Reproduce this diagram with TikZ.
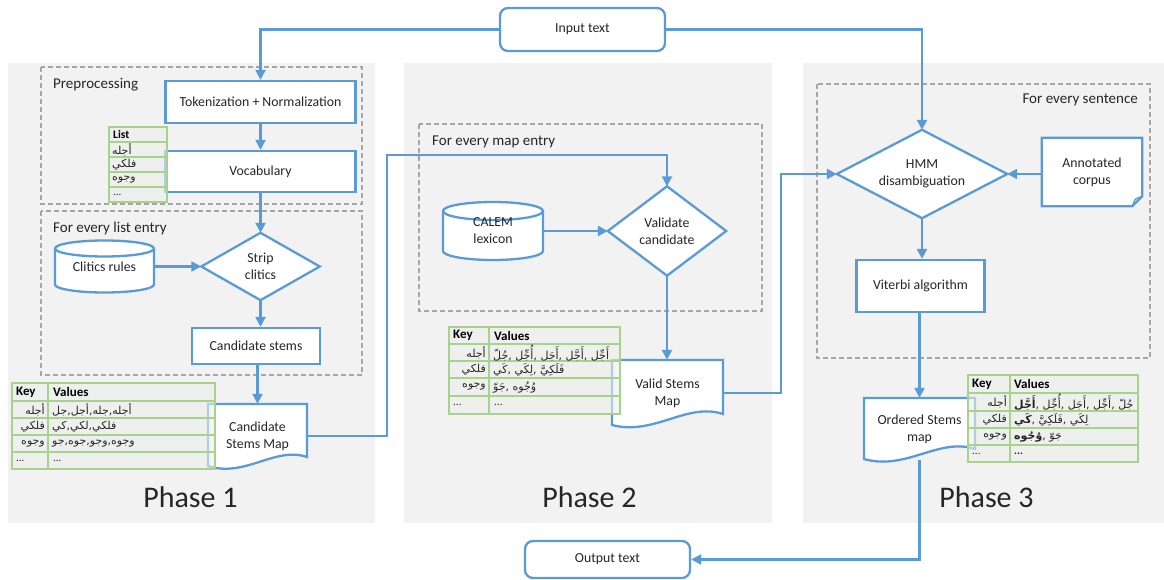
\documentclass[tikz,border=0pt]{standalone}
\usepackage{fontspec}
\setmainfont{Carlito}
\newfontfamily\arfont[Script=Arabic]{DejaVu Sans}
\TeXXeTstate=1
\usetikzlibrary{arrows.meta}
\definecolor{blu}{HTML}{5B9BD5}
\definecolor{grn}{HTML}{A9D18E}
\definecolor{pan}{HTML}{F2F2F2}
\definecolor{dsh}{HTML}{A6A6A6}
\definecolor{txt}{HTML}{262626}
\definecolor{cell}{HTML}{EBEFE8}
\newcommand\AR[1]{\beginR #1\endR}
\pgfdeclarelayer{back}
\pgfdeclarelayer{bg}
\pgfsetlayers{back,bg,main}
\tikzset{
  conn/.style={draw=blu, line width=2.3pt, -{Triangle[length=10pt,width=10pt]}},
  shp/.style={draw=blu, line width=2.3pt, fill=white},
  box/.style={draw=blu, line width=2.3pt, fill=white, align=center, font=\fontsize{13.8}{17}\selectfont, text=txt, inner sep=0pt},
  hold/.style={align=center, font=\fontsize{13.8}{17}\selectfont, text=txt, inner sep=0pt},
  group/.style={draw=dsh, line width=1.3pt, dash pattern=on 5pt off 3pt},
  grouplbl/.style={font=\fontsize{15}{17}\selectfont, text=txt, anchor=west, inner sep=0pt},
  phase/.style={font=\fontsize{30}{36}\selectfont, text=txt, inner sep=0pt},
  tbl/.style={draw=grn, line width=1.6pt, fill=cell, fill opacity=0.6},
  hd/.style={font=\bfseries\fontsize{13}{15}\selectfont, text=black, anchor=west, inner sep=0pt},
  ark/.style={font=\arfont\fontsize{11}{12}\selectfont, text=txt, inner sep=0pt},
  arv/.style={font=\arfont\fontsize{11}{12}\selectfont, text=txt, inner sep=0pt, anchor=west},
  dots/.style={font=\fontsize{11}{13}\selectfont, text=txt, anchor=west, inner sep=0pt},
}
\begin{document}
\begin{tikzpicture}[x=1pt,y=-1pt]
\useasboundingbox (0,0) rectangle (1164,580);
% panels and groups
\begin{pgfonlayer}{back}
\fill[pan] (8,63) rectangle (375,523);
\fill[pan] (404,63) rectangle (772,523);
\fill[pan] (803,63) rectangle (1164,523);
\draw[group] (41,67) rectangle (362,204);
\draw[group] (41,211) rectangle (362,375);
\draw[group] (419,124) rectangle (762,311);
\draw[group] (817,84) rectangle (1150,358);
\end{pgfonlayer}
\node[grouplbl] (lp) at (53,85) {Preprocessing};
\node[grouplbl] (lf) at (53,229) {For every list entry};
\node[grouplbl] (lm) at (432,142) {For every map entry};
\node[grouplbl, anchor=east] (ls) at (1138,100) {For every sentence};
\node[phase] (p1) at (190.5,497) {Phase 1};
\node[phase] (p2) at (589.5,497) {Phase 2};
\node[phase] (p3) at (986.5,497) {Phase 3};

% nodes
\node[box, rounded corners=8pt, minimum width=165pt, minimum height=43pt] (input) at (582.5,29.5) {Input text};
\node[box, rounded corners=8pt, minimum width=165pt, minimum height=37pt] (output) at (607.5,559.5) {Output text};
\node[box, minimum width=190pt, minimum height=42pt] (tok) at (260.5,102) {Tokenization + Normalization};
\node[box, minimum width=190pt, minimum height=41pt] (vocab) at (260.5,171.5) {Vocabulary};
\node[hold, minimum width=118pt, minimum height=67pt] (strip) at (260.5,266.5) {Strip\\clitics};
\node[hold, minimum width=99pt, minimum height=52pt] (clr) at (104.5,266.5) {Clitics rules};
\node[box, minimum width=128pt, minimum height=36pt] (cand) at (256,346) {Candidate stems};
\node[hold, minimum width=99pt, minimum height=64pt] (csm) at (257.5,436) {Candidate\\Stems Map};
\node[hold, minimum width=100pt, minimum height=58pt] (calem) at (493,231) {CALEM\\lexicon};
\node[hold, minimum width=118pt, minimum height=89pt] (valid) at (667,231) {Validate\\candidate};
\node[hold, minimum width=111pt, minimum height=66pt] (vsm) at (667.5,393) {Valid Stems\\Map};
\node[hold, minimum width=170pt, minimum height=88pt] (hmm) at (922,174) {HMM\\disambiguation};
\node[hold, minimum width=100pt, minimum height=68pt] (corpus) at (1092,172) {Annotated\\corpus};
\node[box, minimum width=128pt, minimum height=52pt] (viterbi) at (920.5,286) {Viterbi algorithm};
\node[hold, minimum width=111pt, minimum height=62pt] (osm) at (919.5,429) {Ordered Stems\\map};

% shapes behind text
\begin{pgfonlayer}{bg}
\draw[shp] (strip.north) -- (strip.east) -- (strip.south) -- (strip.west) -- cycle;
\draw[shp] (valid.north) -- (valid.east) -- (valid.south) -- (valid.west) -- cycle;
\draw[shp] (hmm.north) -- (hmm.east) -- (hmm.south) -- (hmm.west) -- cycle;
% cylinders
\draw[shp] (55,248.5) -- (55,284.5) arc[start angle=180,end angle=360,x radius=49.5pt,y radius=8pt] -- (154,248.5) arc[start angle=0,end angle=180,x radius=49.5pt,y radius=8pt] -- cycle;
\draw[shp, fill=none] (55,248.5) arc[start angle=180,end angle=360,x radius=49.5pt,y radius=8pt];
\draw[shp] (443,211) -- (443,251) arc[start angle=180,end angle=360,x radius=50pt,y radius=9pt] -- (543,211) arc[start angle=0,end angle=180,x radius=50pt,y radius=9pt] -- cycle;
\draw[shp, fill=none] (443,211) arc[start angle=180,end angle=360,x radius=50pt,y radius=9pt];
% documents
\draw[shp] (208,404) -- (307,404) -- (307,457) .. controls (275,446) and (245,478) .. (208,466) -- cycle;
\draw[shp] (612,360) -- (723,360) -- (723,414) .. controls (687,402) and (654,436) .. (612,425) -- cycle;
\draw[shp] (864,398) -- (975,398) -- (975,449) .. controls (939,437) and (906,471) .. (864,459) -- cycle;
% annotated corpus
\draw[shp] (corpus.north west) -- (corpus.north east) -- ([yshift=10pt]corpus.south east) -- ([xshift=-10pt]corpus.south east) -- (corpus.south west) -- cycle;
\draw[shp, fill=none, line width=1.4pt] ([xshift=-10pt]corpus.south east) -- ([xshift=-7pt,yshift=7pt]corpus.south east) -- ([yshift=10pt]corpus.south east);
\end{pgfonlayer}

% connectors
\coordinate (j1) at (387,155);
\coordinate (j2) at (781,174);
\draw[conn] (input.west) -| (tok.north);
\draw[conn] (input.east) -| (hmm.north);
\draw[conn] (tok.south) -- (vocab.north);
\draw[conn] (vocab.south) -- (strip.north);
\draw[conn] (clr.east) -- (strip.west);
\draw[conn] (strip.south) -- (strip.south |- cand.north);
\draw[conn] (cand.south -| csm.north) -- (csm.north);
\draw[conn] (csm.east) -| (j1) -| (valid.north);
\draw[conn] (calem.east) -- (valid.west);
\draw[conn] (valid.south) -- (valid.south |- vsm.north);
\draw[conn] (vsm.east) -| (j2) -- (hmm.west);
\draw[conn] (corpus.west |- hmm.east) -- (hmm.east);
\draw[conn] (hmm.south) -- (hmm.south |- viterbi.north);
\draw[conn] (viterbi.south -| osm.north) -- (osm.north);
\draw[conn] (osm.south) |- (output.east);

% list table
\foreach \a/\b in {127/142,142/157,157/172,172/187,187/202}{\draw[tbl] (109,\a) rectangle (167,\b);}
\node[hd, font=\bfseries\fontsize{11.5}{13}\selectfont] (lh) at (113,134.5) {List};
\node[ark, anchor=west] (l1) at (112,149.5) {\AR{أجله}};
\node[ark, anchor=west] (l2) at (112,164.5) {\AR{فلكي}};
\node[ark, anchor=west] (l3) at (112,179.5) {\AR{وجوه}};
\node[dots] (l4) at (113,194.5) {...};

% candidate table
\foreach \a/\b in {383/401,401/418,418/435,435/452,452/469}{\draw[tbl] (12,\a) rectangle (48,\b); \draw[tbl] (48,\a) rectangle (215,\b);}
\node[hd] (ck) at (16,392) {Key};
\node[hd] (cv) at (53,392) {Values};
\node[ark, anchor=east] (ck1) at (45,409.5) {\AR{أجله}};
\node[ark, anchor=west] (cv1) at (52,409.5) {\AR{جل},\AR{أجل},\AR{جله},\AR{أجله}};
\node[ark, anchor=east] (ck2) at (45,426.5) {\AR{فلكي}};
\node[ark, anchor=west] (cv2) at (52,426.5) {\AR{كي},\AR{لكي},\AR{فلكي}};
\node[ark, anchor=east] (ck3) at (45,443.5) {\AR{وجوه}};
\node[ark, anchor=west] (cv3) at (52,443.5) {\AR{جو},\AR{جوه},\AR{وجو},\AR{وجوه}};
\node[dots] (ck4) at (16,460.5) {...};
\node[dots] (cv4) at (53,460.5) {...};

% valid table
\foreach \a/\b in {327/344,344/361,361/378,378/396,396/414}{\draw[tbl] (449,\a) rectangle (489,\b); \draw[tbl] (489,\a) rectangle (620,\b);}
\node[hd] (vk) at (453,335.5) {Key};
\node[hd] (vv) at (494,335.5) {Values};
\node[ark, anchor=east] (vk1) at (486,352.5) {\AR{أجله}};
\node[arv] (vv1) at (493,353) {\AR{جُلّ}, \AR{أُجِّل}, \AR{أَجَل}, \AR{أَجَّل}, \AR{أَجِّل}};
\node[ark, anchor=east] (vk2) at (486,369.5) {\AR{فلكي}};
\node[arv] (vv2) at (493,370) {\AR{كَي}, \AR{لِكَي}, \AR{فَلَكِيَّ}};
\node[ark, anchor=east] (vk3) at (486,387) {\AR{وجوه}};
\node[arv] (vv3) at (493,387.5) {\AR{جَوّ}, \AR{وُجُوه}};
\node[dots] (vk4) at (453,405) {...};
\node[dots] (vv4) at (494,405) {...};

% ordered table
\foreach \a/\b in {375/393,393/411,411/428,428/445,445/462}{\draw[tbl] (968,\a) rectangle (1010,\b); \draw[tbl] (1010,\a) rectangle (1138,\b);}
\node[hd] (ok) at (972,384) {Key};
\node[hd] (ov) at (1014,384) {Values};
\node[ark, anchor=east] (ok1) at (1007,402) {\AR{أجله}};
\node[arv] (ov1) at (1014,402.5) {{\bfseries\AR{أَجَّل}}, \AR{أُجِّل}, \AR{أَجَل}, \AR{أَجِّل}, \AR{جُلّ}};
\node[ark, anchor=east] (ok2) at (1007,419.5) {\AR{فلكي}};
\node[arv] (ov2) at (1014,420) {{\bfseries\AR{كَي}}, \AR{فَلَكِيَّ}, \AR{لِكَي}};
\node[ark, anchor=east] (ok3) at (1007,436.5) {\AR{وجوه}};
\node[arv] (ov3) at (1014,437) {{\bfseries\AR{وُجُوه}}, \AR{جَوّ}};
\node[dots] (ok4) at (972,453.5) {...};
\node[dots, font=\bfseries\fontsize{11}{13}\selectfont] (ov4) at (1014,453.5) {...};
\end{tikzpicture}
\end{document}
